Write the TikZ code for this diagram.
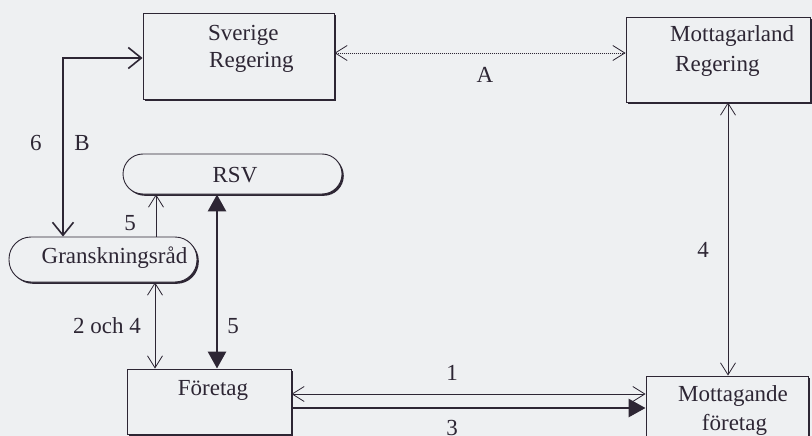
\documentclass[tikz,border=0pt]{standalone}
\usepackage{fontspec}
\setmainfont{Liberation Serif}
\usetikzlibrary{arrows.meta,shadows}
\definecolor{paper}{RGB}{238,240,242}
\definecolor{ink}{RGB}{45,38,52}
\begin{document}
\begin{tikzpicture}[x=1pt,y=-1pt,
  every node/.style={font=\fontsize{23}{28}\selectfont, text=ink},
  box/.style={draw=ink, line width=0.9pt, fill=paper, inner sep=0pt,
    drop shadow={shadow xshift=1.8pt, shadow yshift=-1.8pt, fill=ink, opacity=1}},
  pill/.style={box, rounded corners=20pt},
  lbl/.style={anchor=base, inner sep=0pt},
  lblw/.style={anchor=base west, inner sep=0pt},
  vee/.tip={Straight Barb[length=12pt, width=15pt, line width=0.8pt]},
  bigvee/.tip={Straight Barb[length=13pt, width=21pt, line width=1.6pt]},
  tri/.tip={Triangle[length=17pt, width=18pt]},
  thinlink/.style={draw=ink, line width=0.8pt},
  boldlink/.style={draw=ink, line width=2.2pt},
  heavylink/.style={draw=ink, line width=2.8pt},
  dotlink/.style={draw=ink, line width=0.6pt, dash pattern=on 1pt off 1pt}]

\fill[paper] (0,0) rectangle (812,436);
\useasboundingbox (0,0) rectangle (812,436);

% boxes
\node[box, minimum width=191pt, minimum height=86pt] (sv) at (238.5,56) {};
\node[box, minimum width=184pt, minimum height=85pt] (ml) at (718,59.5) {};
\node[pill, minimum width=219pt, minimum height=40pt] (rsv) at (232.5,174) {};
\node[pill, rounded corners=22pt, minimum width=188pt, minimum height=45pt] (gr) at (103,259.5) {};
\node[box, minimum width=164pt, minimum height=65pt] (fo) at (209,401.5) {};
\node[box, minimum width=162pt, minimum height=74pt] (mo) at (727,413) {};

% box texts
\node[lblw] (svA) at (208,41) {Sverige};
\node[lblw] (svB) at (209,68) {Regering};
\node[lblw] (mlA) at (670,42) {Mottagarland};
\node[lblw] (mlB) at (675,72) {Regering};
\node[lbl] (rsvT) at (235,182) {RSV};
\node[lbl] (grT) at (114.5,263) {Granskningsråd};
\node[lbl] (foT) at (213,395) {Företag};
\node[lbl] (moA) at (733,401) {Mottagande};
\node[lbl] (moB) at (734.5,430) {företag};

% guide coordinates for connector positions
\coordinate (ya) at (0,53);
\coordinate (xb) at (63,58);
\coordinate (x5) at (156,0);
\coordinate (x24) at (155,0);
\coordinate (x5b) at (217,0);
\coordinate (y1) at (0,394);
\coordinate (y3) at (0,408);
\coordinate (x4) at (728,0);

% connectors
\draw[dotlink, vee-vee] (sv.east |- ya) -- (ml.west |- ya);
\draw[boldlink, bigvee-bigvee] (gr.north -| xb) -- (xb) -- (sv.west |- xb);
\draw[thinlink, -vee] (gr.north -| x5) -- (rsv.south -| x5);
\draw[thinlink, vee-vee] (gr.south -| x24) -- (fo.north -| x24);
\draw[heavylink, tri-tri] (rsv.south -| x5b) -- (fo.north -| x5b);
\draw[thinlink, vee-vee] (fo.east |- y1) -- (mo.west |- y1);
\draw[heavylink, -tri] (fo.east |- y3) -- (mo.west |- y3);
\draw[thinlink, vee-vee] (ml.south -| x4) -- (mo.north -| x4);

% connector labels
\node[lbl] (tA) at (485,83) {A};
\node[lbl] (t6) at (36,150) {6};
\node[lbl] (tB) at (82,150) {B};
\node[lbl] (t5a) at (130,230) {5};
\node[lbl] (t24) at (107,333) {2 och 4};
\node[lbl] (t5b) at (233,333) {5};
\node[lbl] (t4) at (703,257) {4};
\node[lbl] (t1) at (452,380) {1};
\node[lbl] (t3) at (452,435) {3};
\end{tikzpicture}
\end{document}
